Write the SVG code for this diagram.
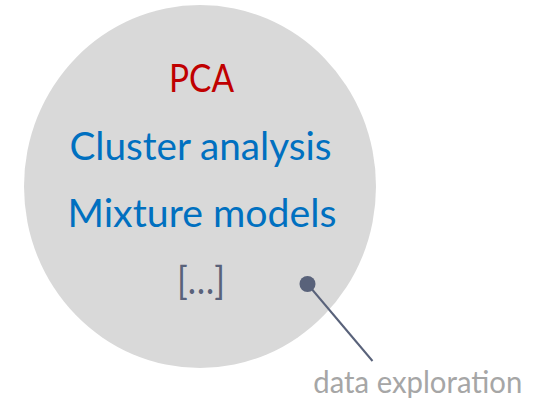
<svg xmlns="http://www.w3.org/2000/svg" width="544" height="406" viewBox="0 0 544 406">
  <style>
    .t { font-family: Lato, "Liberation Sans", sans-serif; text-anchor: middle; }
    .blue { fill: #0070c0; font-size: 38px; }
    .red { fill: #c00000; font-size: 38px; }
    .dots { fill: #59627a; font-size: 38px; }
    .lbl { font-family: Lato, "Liberation Sans", sans-serif; fill: #a6a6a6; font-size: 30px; }
  </style>
  <g id="circle-node">
    <ellipse cx="200" cy="186.5" rx="176" ry="181.5" fill="#d9d9d9"/>
    <text class="t red" x="201.5" y="91.7" textLength="65" lengthAdjust="spacingAndGlyphs">PCA</text>
    <text class="t blue" x="200.5" y="160" textLength="262" lengthAdjust="spacingAndGlyphs">Cluster analysis</text>
    <text class="t blue" x="202" y="227" textLength="269" lengthAdjust="spacingAndGlyphs">Mixture models</text>
    <text class="t dots" x="201" y="294" textLength="48" lengthAdjust="spacingAndGlyphs">[…]</text>
  </g>
  <g id="connectors">
    <line x1="307.5" y1="284" x2="372.5" y2="361" stroke="#59627a" stroke-width="2"/>
    <circle cx="307.5" cy="284" r="8" fill="#59627a"/>
  </g>
  <g id="label-node">
    <text class="lbl" x="313.3" y="393" textLength="209" lengthAdjust="spacingAndGlyphs">data exploration</text>
  </g>
</svg>
